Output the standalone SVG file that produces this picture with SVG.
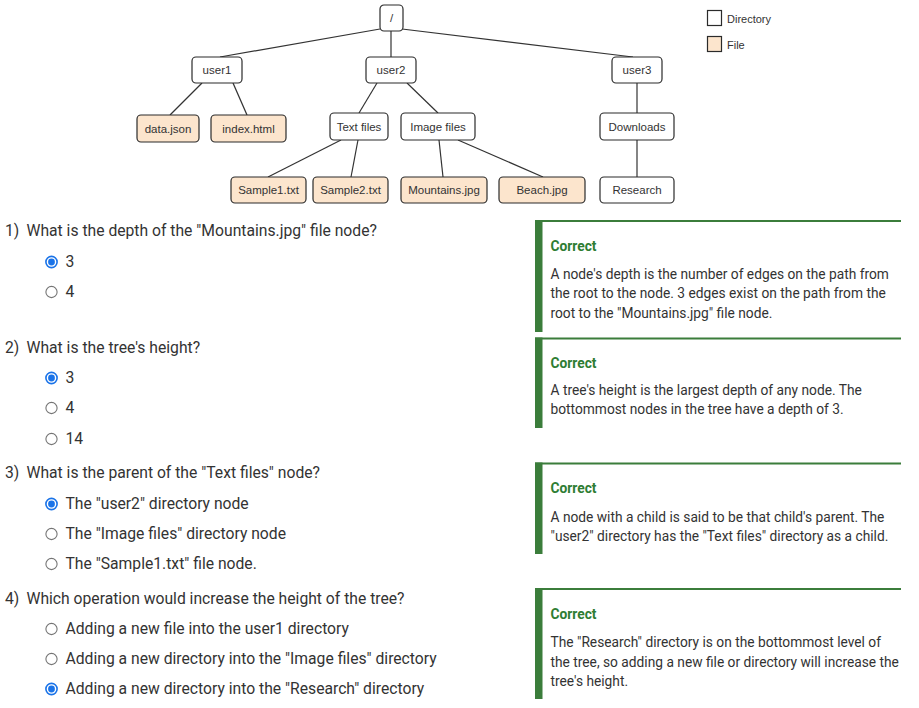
<svg xmlns="http://www.w3.org/2000/svg" width="919" height="708" viewBox="0 0 919 708">
<style>
.n rect{stroke:#2b2b2b;stroke-width:1.2;fill:#fff}
.f rect{fill:#fce5cd}
.n text,.lg text{font-family:"Liberation Sans",Arial,sans-serif;font-size:11.5px;fill:#333;text-anchor:middle}
.lg text{text-anchor:start;font-size:11px}
.e line{stroke:#333;stroke-width:1.2}
.q{font-family:Roboto,"Noto Sans",sans-serif;font-size:15.7px;fill:#333}
.fb{font-family:Roboto,"Noto Sans",sans-serif;font-size:13.75px;fill:#333}
.ok{font-family:Roboto,"Noto Sans",sans-serif;font-size:13.75px;font-weight:bold;fill:#2e7d32}
.bar{fill:#3b7d3b}
.ro{fill:#fff;stroke:#757575;stroke-width:1.1}
.rs{fill:#fff;stroke:#1a73e8;stroke-width:1.6}
.rd{fill:#1a73e8}
</style>
<rect width="919" height="708" fill="#fff"/>
<g id="connectors" class="e">
<line x1="380" y1="29" x2="220" y2="57"/>
<line x1="391" y1="31" x2="391" y2="57"/>
<line x1="402" y1="29" x2="633" y2="57"/>
<line x1="202" y1="83" x2="170" y2="115"/>
<line x1="233" y1="83" x2="247" y2="115"/>
<line x1="377" y1="83" x2="359" y2="113"/>
<line x1="407" y1="83" x2="438" y2="113"/>
<line x1="341" y1="140" x2="268" y2="177"/>
<line x1="358" y1="140" x2="351" y2="177"/>
<line x1="439" y1="140" x2="443" y2="177"/>
<line x1="458" y1="140" x2="543" y2="177"/>
<line x1="637" y1="83" x2="637" y2="113"/>
<line x1="637" y1="140" x2="637" y2="177"/>
</g>
<g id="root" class="n"><rect x="380" y="5" width="23" height="26" rx="4"/><text x="391.5" y="22">/</text></g>
<g id="user1" class="n"><rect x="192" y="57" width="50" height="26" rx="4"/><text x="217" y="74">user1</text></g>
<g id="user2" class="n"><rect x="366" y="57" width="50" height="26" rx="4"/><text x="391" y="74">user2</text></g>
<g id="user3" class="n"><rect x="612" y="57" width="50" height="26" rx="4"/><text x="637" y="74">user3</text></g>
<g id="data-json" class="n f"><rect x="137" y="115" width="62" height="27" rx="4"/><text x="168" y="132.5">data.json</text></g>
<g id="index-html" class="n f"><rect x="211" y="115" width="75" height="27" rx="4"/><text x="248.5" y="132.5">index.html</text></g>
<g id="text-files" class="n"><rect x="330" y="113" width="58" height="27" rx="4"/><text x="359" y="130.5">Text files</text></g>
<g id="image-files" class="n"><rect x="401" y="113" width="74" height="27" rx="4"/><text x="438" y="130.5">Image files</text></g>
<g id="downloads" class="n"><rect x="600" y="113" width="74" height="27" rx="4"/><text x="637" y="130.5">Downloads</text></g>
<g id="sample1" class="n f"><rect x="231" y="177" width="75" height="26" rx="4"/><text x="268.5" y="194">Sample1.txt</text></g>
<g id="sample2" class="n f"><rect x="313" y="177" width="75" height="26" rx="4"/><text x="350.5" y="194">Sample2.txt</text></g>
<g id="mountains" class="n f"><rect x="401" y="177" width="86" height="26" rx="4"/><text x="444" y="194">Mountains.jpg</text></g>
<g id="beach" class="n f"><rect x="499" y="177" width="86" height="26" rx="4"/><text x="542" y="194">Beach.jpg</text></g>
<g id="research" class="n"><rect x="600" y="177" width="74" height="26" rx="4"/><text x="637" y="194">Research</text></g>
<g id="legend" class="lg">
<rect x="707.5" y="10.5" width="14" height="15" fill="#fff" stroke="#2b2b2b" stroke-width="1.2"/>
<text x="727" y="23">Directory</text>
<rect x="707.5" y="36.5" width="14" height="15" fill="#fce5cd" stroke="#2b2b2b" stroke-width="1.2"/>
<text x="727" y="49">File</text>
</g>
<g id="q1">
<text class="q" x="5" y="236">1)</text>
<text class="q" x="26.5" y="236">What is the depth of the "Mountains.jpg" file node?</text>
<circle class="rs" cx="51.5" cy="262" r="5.6"/><circle class="rd" cx="51.5" cy="262" r="3.4"/>
<text class="q" x="65.5" y="267">3</text>
<circle class="ro" cx="51.5" cy="292" r="5.6"/>
<text class="q" x="65.5" y="297">4</text>
</g>
<g id="q2">
<text class="q" x="5" y="353">2)</text>
<text class="q" x="26.5" y="353">What is the tree's height?</text>
<circle class="rs" cx="51.5" cy="378" r="5.6"/><circle class="rd" cx="51.5" cy="378" r="3.4"/>
<text class="q" x="65.5" y="383">3</text>
<circle class="ro" cx="51.5" cy="408" r="5.6"/>
<text class="q" x="65.5" y="413">4</text>
<circle class="ro" cx="51.5" cy="439" r="5.6"/>
<text class="q" x="65.5" y="444">14</text>
</g>
<g id="q3">
<text class="q" x="5" y="478">3)</text>
<text class="q" x="26.5" y="478">What is the parent of the "Text files" node?</text>
<circle class="rs" cx="51.5" cy="504" r="5.6"/><circle class="rd" cx="51.5" cy="504" r="3.4"/>
<text class="q" x="65.5" y="509">The "user2" directory node</text>
<circle class="ro" cx="51.5" cy="534" r="5.6"/>
<text class="q" x="65.5" y="539">The "Image files" directory node</text>
<circle class="ro" cx="51.5" cy="564" r="5.6"/>
<text class="q" x="65.5" y="569">The "Sample1.txt" file node.</text>
</g>
<g id="q4">
<text class="q" x="5" y="604">4)</text>
<text class="q" x="26.5" y="604">Which operation would increase the height of the tree?</text>
<circle class="ro" cx="51.5" cy="629" r="5.6"/>
<text class="q" x="65.5" y="634">Adding a new file into the user1 directory</text>
<circle class="ro" cx="51.5" cy="659" r="5.6"/>
<text class="q" x="65.5" y="664">Adding a new directory into the "Image files" directory</text>
<circle class="rs" cx="51.5" cy="689" r="5.6"/><circle class="rd" cx="51.5" cy="689" r="3.4"/>
<text class="q" x="65.5" y="694">Adding a new directory into the "Research" directory</text>
</g>
<g id="fb1">
<rect class="bar" x="535" y="220" width="366" height="2"/>
<rect class="bar" x="535" y="220" width="7.5" height="112"/>
<text class="ok" x="550.5" y="251">Correct</text>
<text class="fb" x="550.5" y="279">A node's depth is the number of edges on the path from</text>
<text class="fb" x="550.5" y="298">the root to the node. 3 edges exist on the path from the</text>
<text class="fb" x="550.5" y="317.5">root to the "Mountains.jpg" file node.</text>
</g>
<g id="fb2">
<rect class="bar" x="535" y="337.5" width="366" height="2"/>
<rect class="bar" x="535" y="337.5" width="7.5" height="90.5"/>
<text class="ok" x="550.5" y="368">Correct</text>
<text class="fb" x="550.5" y="395">A tree's height is the largest depth of any node. The</text>
<text class="fb" x="550.5" y="414">bottommost nodes in the tree have a depth of 3.</text>
</g>
<g id="fb3">
<rect class="bar" x="535" y="462.5" width="366" height="2"/>
<rect class="bar" x="535" y="462.5" width="7.5" height="91.5"/>
<text class="ok" x="550.5" y="493">Correct</text>
<text class="fb" x="550.5" y="521.5">A node with a child is said to be that child's parent. The</text>
<text class="fb" x="550.5" y="540.5">"user2" directory has the "Text files" directory as a child.</text>
</g>
<g id="fb4">
<rect class="bar" x="535" y="588" width="366" height="2"/>
<rect class="bar" x="535" y="588" width="7.5" height="111"/>
<text class="ok" x="550.5" y="619">Correct</text>
<text class="fb" x="550.5" y="646.5">The "Research" directory is on the bottommost level of</text>
<text class="fb" x="550.5" y="666.5">the tree, so adding a new file or directory will increase the</text>
<text class="fb" x="550.5" y="686">tree's height.</text>
</g>
</svg>
